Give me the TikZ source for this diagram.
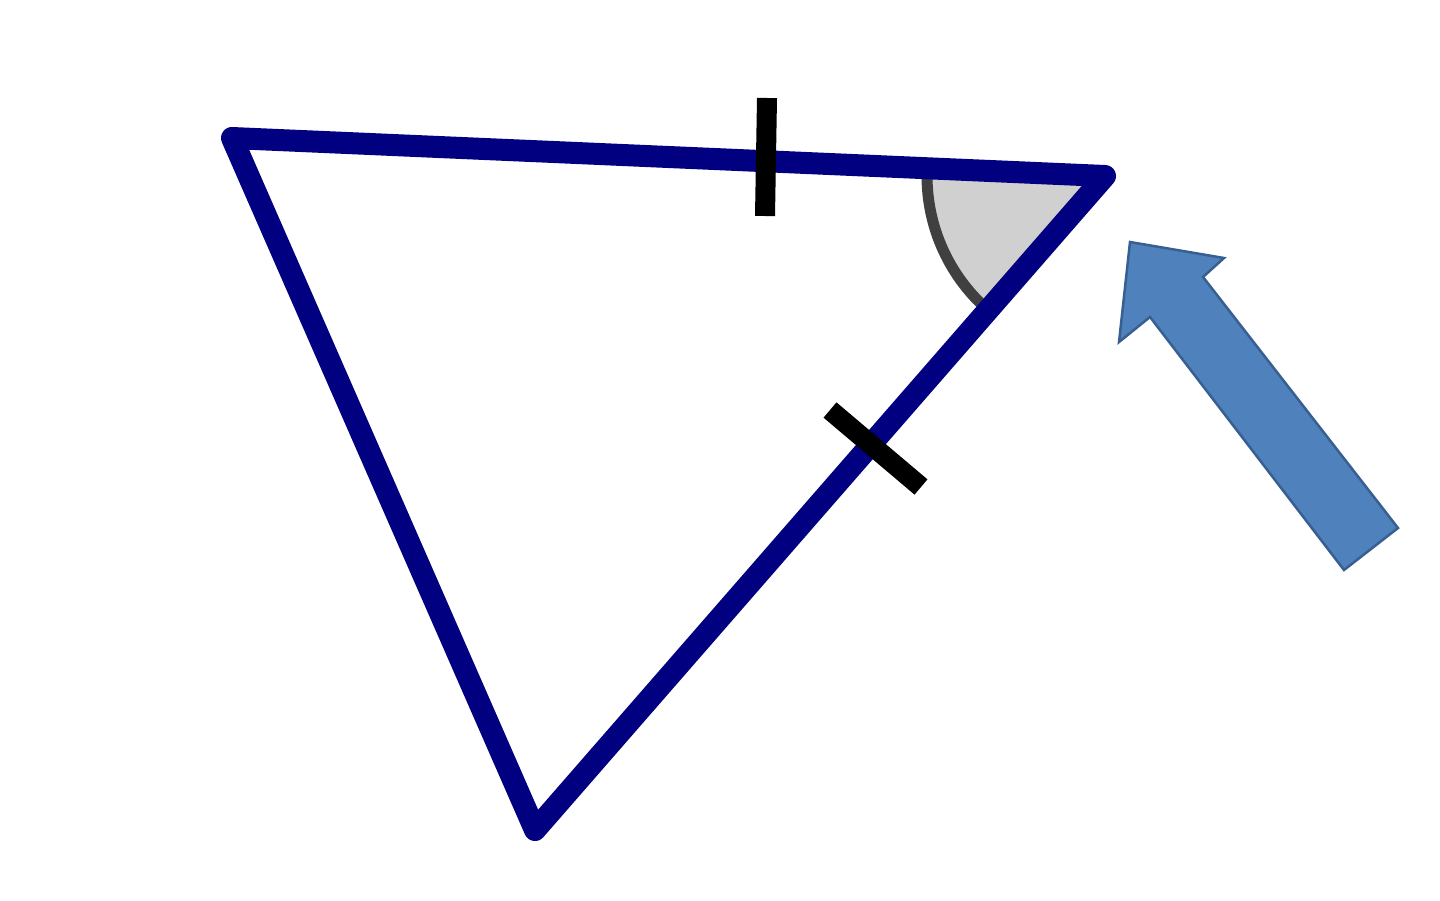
\documentclass[tikz,border=0pt]{standalone}
\begin{document}
\begin{tikzpicture}[x=1pt,y=-1pt,
  side/.style={draw={rgb,255:red,0;green,0;blue,128},line width=22pt,line join=round},
  tick/.style={draw=black,line width=20pt},
  anglefill/.style={fill={rgb,255:red,208;green,208;blue,208}},
  anglearc/.style={draw={rgb,255:red,64;green,64;blue,64},line width=11pt},
  bigarrow/.style={fill={rgb,255:red,79;green,129;blue,189},draw={rgb,255:red,56;green,95;blue,145},line width=2.5pt,line join=miter}]
\useasboundingbox (0,0) rectangle (1440,900);
\coordinate (A) at (232,138);
\coordinate (B) at (1105,176);
\coordinate (C) at (535,830);
% angle at B
\fill[anglefill] (B) -- ++(182.6:178) arc[start angle=182.6,end angle=131.1,radius=178] -- cycle;
\draw[anglearc] (B) ++(182.6:178) arc[start angle=182.6,end angle=131.1,radius=178];
% triangle
\draw[side] (A) -- (B) -- (C) -- cycle;
% equal-side ticks
\coordinate (t1a) at (767,98);
\coordinate (t1b) at (765,216);
\coordinate (t2a) at (830,410);
\coordinate (t2b) at (921,487);
\draw[tick] (t1a) -- (t1b);
\draw[tick] (t2a) -- (t2b);
% block arrow
\draw[bigarrow] (1130,242) -- (1224,258) -- (1203,277) -- (1398,528) -- (1344,570) -- (1150,317) -- (1119,342) -- cycle;
\end{tikzpicture}
\end{document}
